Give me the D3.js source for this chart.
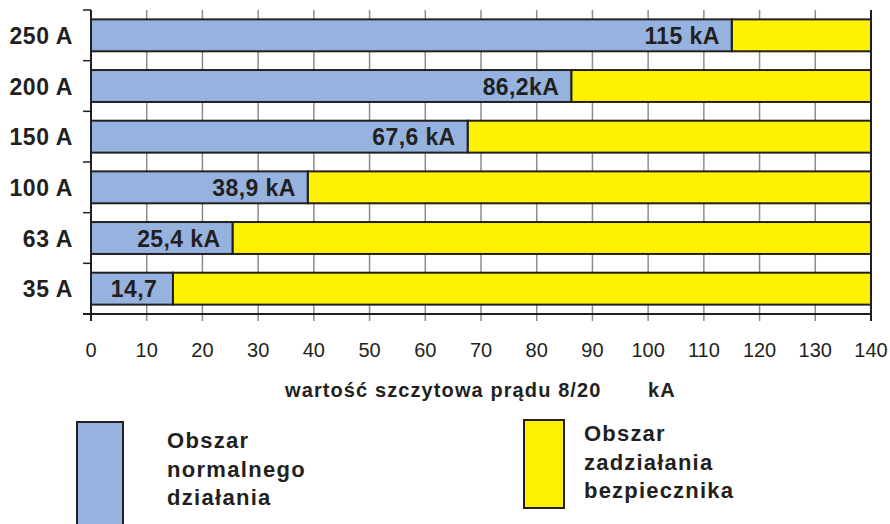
<!DOCTYPE html>
<html>
<head>
<meta charset="utf-8">
<script src="https://cdn.jsdelivr.net/npm/d3@7"></script>
<style>
  html, body { margin: 0; padding: 0; background: #fff; }
  svg { display: block; font-family: "Liberation Sans", Arial, Helvetica, sans-serif; }
</style>
</head>
<body>
<svg id="chart" width="890" height="524"></svg>
<script>
// ---- data ----
const categories = ["250 A", "200 A", "150 A", "100 A", "63 A", "35 A"];
const normalValues = [115, 86.2, 67.6, 38.9, 25.4, 14.7];
const valueLabels = ["115 kA", "86,2kA", "67,6 kA", "38,9 kA", "25,4 kA", "14,7"];
const xMax = 140;
const xTicks = [0, 10, 20, 30, 40, 50, 60, 70, 80, 90, 100, 110, 120, 130, 140];
const axisTitle = "wartość szczytowa prądu 8/20";
const axisUnit = "kA";
const legendNormal = ["Obszar", "normalnego", "działania"];
const legendFuse = ["Obszar", "zadziałania", "bezpiecznika"];

// ---- styles ----
const BLUE = "#95b3de";
const YELLOW = "#fff200";
const DARK = "#231f20";
const GRID = "#8c8c8c";

const svg = d3.select("#chart");

const x = d3.scaleLinear().domain([0, xMax]).range([91, 871]);
const y = d3.scaleBand().domain(categories).range([10, 314]).paddingInner(0.37).paddingOuter(0.185);
const step = y.step();
const plotTop = 10, axisY = 314, tickBottom = 321;

// vertical grid lines
svg.append("g").selectAll("line").data(xTicks).join("line")
  .attr("x1", d => x(d)).attr("x2", d => x(d))
  .attr("y1", plotTop).attr("y2", tickBottom)
  .attr("stroke", d => (d === 0 || d === xMax) ? DARK : GRID)
  .attr("stroke-width", d => (d === 0 || d === xMax) ? 2 : 1.5);

// horizontal axis line
svg.append("line")
  .attr("x1", x(0) - 8).attr("x2", x(xMax))
  .attr("y1", axisY).attr("y2", axisY)
  .attr("stroke", DARK).attr("stroke-width", 2);

// category boundary ticks on y axis
const boundaries = d3.range(categories.length + 1).map(i => plotTop + i * step);
svg.append("g").selectAll("line").data(boundaries).join("line")
  .attr("x1", x(0) - 8).attr("x2", x(0))
  .attr("y1", d => d).attr("y2", d => d)
  .attr("stroke", DARK).attr("stroke-width", 1.5);

// bars
const rows = categories.map((c, i) => ({ c, v: normalValues[i], label: valueLabels[i] }));
const g = svg.append("g");
g.selectAll("rect.fuse").data(rows).join("rect").attr("class", "fuse")
  .attr("x", d => x(d.v)).attr("width", d => x(xMax) - x(d.v))
  .attr("y", d => y(d.c)).attr("height", y.bandwidth())
  .attr("fill", YELLOW).attr("stroke", DARK).attr("stroke-width", 2);
g.selectAll("rect.normal").data(rows).join("rect").attr("class", "normal")
  .attr("x", x(0)).attr("width", d => x(d.v) - x(0))
  .attr("y", d => y(d.c)).attr("height", y.bandwidth())
  .attr("fill", BLUE).attr("stroke", DARK).attr("stroke-width", 2);

// value labels
g.selectAll("text.val").data(rows).join("text").attr("class", "val")
  .attr("x", d => (x(d.v) - x(0) < 100) ? (x(0) + x(d.v)) / 2 + 2 : x(d.v) - 12)
  .attr("y", d => y(d.c) + y.bandwidth() / 2 + 8.5)
  .attr("text-anchor", d => (x(d.v) - x(0) < 100) ? "middle" : "end")
  .attr("font-size", 23).attr("font-weight", "bold").attr("letter-spacing", "0.4px")
  .attr("fill", DARK)
  .text(d => d.label);

// category labels
svg.append("g").selectAll("text").data(categories).join("text")
  .attr("x", 73).attr("y", d => y(d) + y.bandwidth() / 2 + 8.5)
  .attr("text-anchor", "end")
  .attr("font-size", 23).attr("font-weight", "bold").attr("letter-spacing", "0.6px")
  .attr("fill", DARK)
  .text(d => d);

// x tick labels
svg.append("g").selectAll("text").data(xTicks).join("text")
  .attr("x", d => x(d)).attr("y", 357)
  .attr("text-anchor", "middle")
  .attr("font-size", 20).attr("fill", DARK)
  .text(d => d);

// axis title
svg.append("text").attr("x", 285).attr("y", 397)
  .attr("font-size", 20).attr("font-weight", "bold").attr("letter-spacing", "1.1px")
  .attr("fill", DARK).text(axisTitle);
svg.append("text").attr("x", 648).attr("y", 397)
  .attr("font-size", 20).attr("font-weight", "bold").attr("letter-spacing", "1.1px")
  .attr("fill", DARK).text(axisUnit);

// legend
const legends = [
  { color: BLUE, box: [77, 422, 46, 120], tx: 167, ty: 448, lines: legendNormal, ls: "1.3px" },
  { color: YELLOW, box: [524, 420, 40, 88], tx: 584, ty: 441, lines: legendFuse, ls: "1.2px" }
];
legends.forEach(L => {
  svg.append("rect")
    .attr("x", L.box[0]).attr("y", L.box[1]).attr("width", L.box[2]).attr("height", L.box[3])
    .attr("fill", L.color).attr("stroke", DARK).attr("stroke-width", 2);
  svg.append("g").selectAll("text").data(L.lines).join("text")
    .attr("x", L.tx).attr("y", (d, i) => L.ty + i * 28.5)
    .attr("font-size", 22).attr("font-weight", "bold").attr("letter-spacing", L.ls)
    .attr("fill", DARK).text(d => d);
});
</script>
</body>
</html>
